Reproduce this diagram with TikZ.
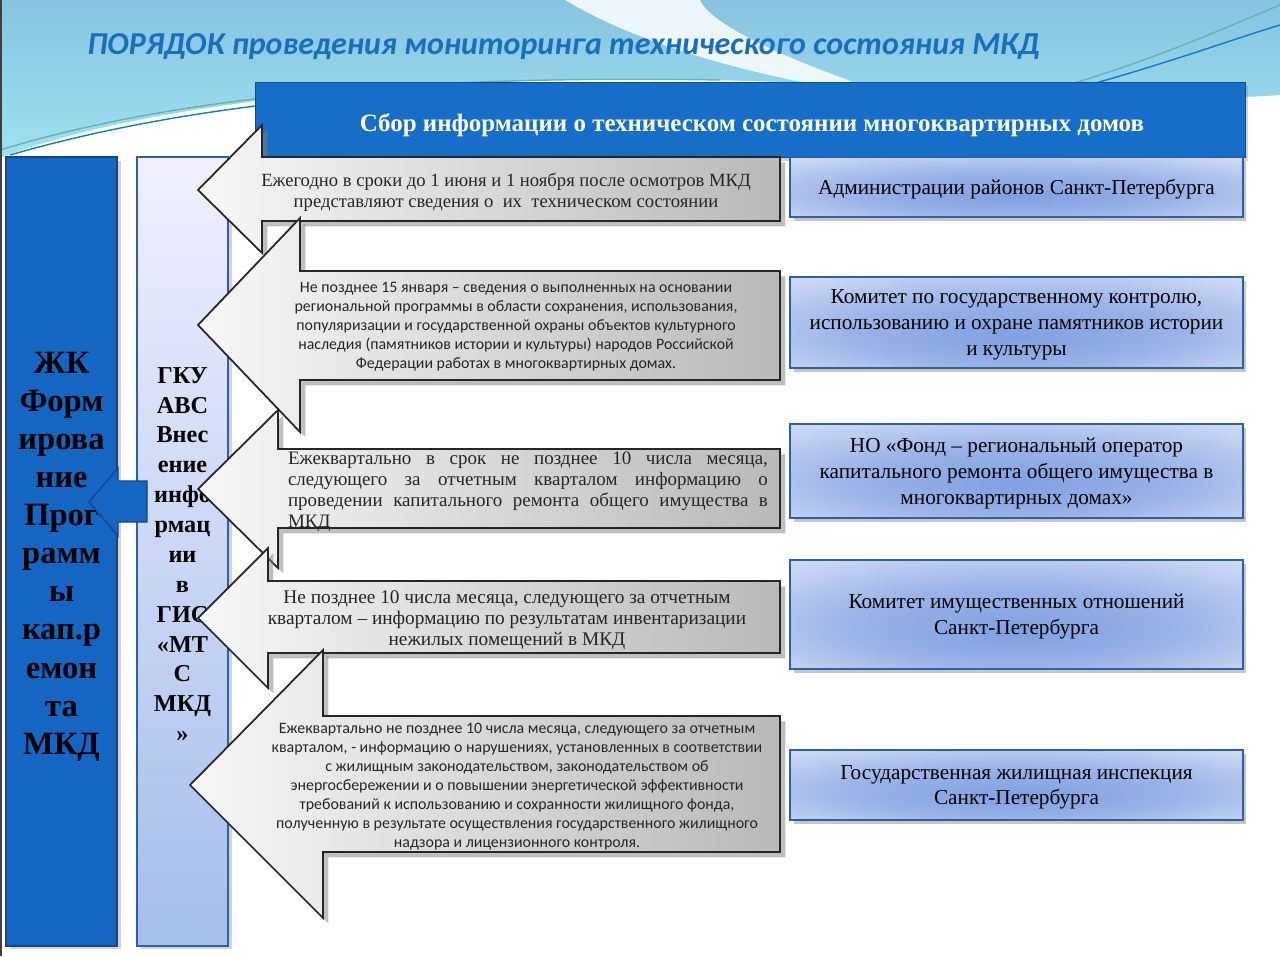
\documentclass[tikz,border=0pt]{standalone}
\usepackage{fontspec}
\setmainfont{Liberation Serif}
\newfontfamily\calfont{Carlito}
\usepackage{xcolor}
\usetikzlibrary{shadows}

\definecolor{hdrblue}{RGB}{22,110,200}
\definecolor{colblue}{RGB}{20,102,194}
\definecolor{colline}{RGB}{18,70,140}
\definecolor{boxline}{RGB}{45,95,170}
\definecolor{boxmid}{RGB}{128,160,226}
\definecolor{titleblue}{RGB}{25,110,195}
\definecolor{bgtop}{RGB}{135,195,225}
\definecolor{bgbot}{RGB}{160,228,240}
\pgfdeclareradialshading{orgshade}{\pgfpoint{0bp}{-8bp}}{color(0bp)=(boxmid); color(18bp)=(boxmid!80!white); color(40bp)=(boxmid!30!white); color(60bp)=(white)}

\begin{document}
\begin{tikzpicture}[x=0.02cm, y=-0.02cm, every node/.style={inner sep=0pt},
  colbox/.style={draw=colline, line width=1pt, minimum width=#1, minimum height=15.78cm, align=center,
    drop shadow={opacity=0.35, shadow xshift=2pt, shadow yshift=-2pt}},
  orgbox/.style={draw=boxline, line width=1.2pt, shading=orgshade, text depth=0pt,
    minimum width=9.06cm, minimum height=#1, align=center, font=\fontsize{12.1}{14.7}\selectfont,
    drop shadow={opacity=0.45, shadow xshift=2pt, shadow yshift=-2pt}},
  infoarrow/.style={draw=black!85, line width=1pt, left color=gray!6, right color=gray!55,
    drop shadow={opacity=0.5, shadow xshift=3pt, shadow yshift=-3pt}},
  serifnote/.style={text=black!85, font=\fontsize{10.8}{12}\selectfont},
  calnote/.style={text=black!85, align=center, font=\calfont\fontsize{9.05}{10.8}\selectfont}]
\useasboundingbox (0,0) rectangle (1280,956);
% background waves
\fill[top color=bgtop, bottom color=bgbot] (0,0) rectangle (1280,165);
\fill[white] (0,165) -- (0,158) .. controls (150,100) and (450,70) .. (780,82) .. controls (950,88) and (1150,105) .. (1280,95) -- (1280,165) -- cycle;
\fill[white, opacity=0.85] (565,0) .. controls (640,45) and (760,80) .. (900,98) .. controls (790,62) and (710,25) .. (700,0) -- cycle;
\draw[teal!60, line width=0.8pt] (0,150) .. controls (180,95) and (420,75) .. (720,80);
\draw[cyan!60!blue, line width=0.8pt] (10,155) .. controls (200,100) and (430,82) .. (700,86);
\draw[teal!60, line width=0.8pt] (1010,100) .. controls (1120,75) and (1220,30) .. (1280,5);
\draw[cyan!60!blue, line width=0.8pt] (1040,98) .. controls (1150,70) and (1230,40) .. (1280,25);
\draw[black!75, line width=1.5pt] (1,0) -- (1,956);

\node[anchor=base west, text=titleblue, font=\calfont\bfseries\itshape\fontsize{18.2}{22}\selectfont] (title) at (87,55) {ПОРЯДОК проведения мониторинга технического состояния МКД};

\node[fill=hdrblue, draw=hdrblue!70!black, minimum width=19.8cm, minimum height=1.5cm,
  drop shadow={opacity=0.35, shadow xshift=2pt, shadow yshift=-2pt}] (hdr) at (750,119.5) {};
\node[text=white, font=\bfseries\fontsize{14.2}{18}\selectfont] (hdrtext) at (752,125) {Сбор информации о техническом состоянии многоквартирных домов};

\node[colbox=2.22cm, fill=colblue, font=\bfseries\fontsize{18.5}{21.7}\selectfont] (zhk) at (61.5,551.5) {};
\node[align=center, font=\bfseries\fontsize{18.5}{21.7}\selectfont] (zhktext) at (61.5,556.5) {ЖК\\Форм\\ирова\\ние\\Прог\\рамм\\ы\\кап.р\\емон\\та\\МКД};
\node[colbox=1.82cm, draw=boxline, top color=blue!6, bottom color={rgb,255:red,165;green,190;blue,235}] (gku) at (182.5,551.5) {};
\node[align=center, font=\bfseries\fontsize{13.8}{17}\selectfont] (gkutext) at (182.5,554.5) {ГКУ\\АВС\\Внес\\ение\\инфо\\рмац\\ии\\в\\ГИС\\«МТ\\С\\МКД\\»};

% small arrow from gku to zhk
\filldraw[fill=colblue, draw=colline, line width=0.8pt] (147,481) -- (118,481) -- (118,468) -- (89,502) -- (118,536) -- (118,522) -- (147,522) -- cycle;

% gray arrows
\path[infoarrow] (780,157) -- (262,157) -- (262,125) -- (198,190) -- (262,253) -- (262,221) -- (780,221) -- cycle;
\node[serifnote, align=center, font=\fontsize{10.6}{12}\selectfont] (t1) at (506,192) {Ежегодно в сроки до 1 июня и 1 ноября после осмотров МКД\\представляют сведения о \ их \ техническом состоянии};

\path[infoarrow] (780,271) -- (300,271) -- (300,218) -- (198,325) -- (300,432) -- (300,380) -- (780,380) -- cycle;
\node[calnote] (t2) at (516,327) {Не позднее 15 января – сведения о выполненных на основании\\региональной программы в области сохранения, использования,\\популяризации и государственной охраны объектов культурного\\наследия (памятников истории и культуры) народов Российской\\Федерации работах в многоквартирных домах.};

\path[infoarrow] (780,449) -- (278,449) -- (278,410) -- (198,489) -- (278,568) -- (278,528) -- (780,528) -- cycle;
\node[serifnote, text width=9.6cm, align=justify] (t3) at (528,492) {Ежеквартально в срок не позднее 10 числа месяца, \linebreak следующего за отчетным кварталом информацию о \linebreak проведении капитального ремонта общего имущества в \linebreak МКД};

\path[infoarrow] (780,581) -- (268,581) -- (268,548) -- (198,618) -- (268,688) -- (268,653) -- (780,653) -- cycle;
\node[serifnote, align=center, font=\fontsize{11}{12}\selectfont] (t4) at (507,620) {Не позднее 10 числа месяца, следующего за отчетным\\кварталом – информацию по результатам инвентаризации\\нежилых помещений в МКД};

\path[infoarrow] (780,716) -- (323,716) -- (323,650) -- (190,785) -- (323,918) -- (323,852) -- (780,852) -- cycle;
\node[calnote] (t5) at (517,787) {Ежеквартально не позднее 10 числа месяца, следующего за отчетным\\кварталом, - информацию о нарушениях, установленных в соответствии\\с жилищным законодательством, законодательством об\\энергосбережении и о повышении энергетической эффективности\\требований к использованию и сохранности жилищного фонда,\\полученную в результате осуществления государственного жилищного\\надзора и лицензионного контроля.};

% bodies on the right
\node[orgbox=1.2cm] (adm) at (1016.5,187) {Администрации районов Санкт-Петербурга};
\node[orgbox=1.82cm] (kgiop) at (1016.5,322.5) {Комитет по государственному контролю,\\использованию и охране памятников истории\\и культуры};
\node[orgbox=1.88cm] (fond) at (1016.5,471) {НО «Фонд – региональный оператор\\капитального ремонта общего имущества в\\многоквартирных домах»};
\node[orgbox=2.18cm] (kio) at (1016.5,614.5) {Комитет имущественных отношений\\Санкт-Петербурга};
\node[orgbox=1.4cm] (gzhi) at (1016.5,785) {Государственная жилищная инспекция\\Санкт-Петербурга};
\end{tikzpicture}
\end{document}
